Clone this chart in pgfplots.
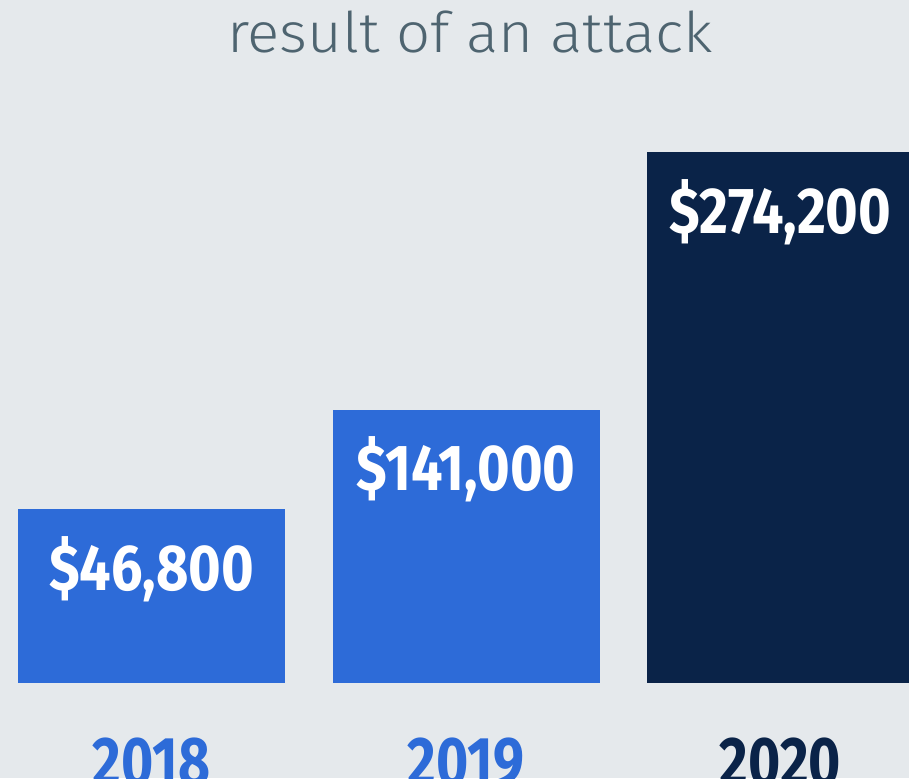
\documentclass[border=0pt]{standalone}
\usepackage{fontspec}
\setmainfont{Fira Sans}
\newfontfamily\numfont{Fira Sans}[FakeStretch=0.86]
\newfontfamily\yearfont{Fira Sans}[FakeStretch=0.80]
\newfontfamily\titlefont{Fira Sans Light}[FakeStretch=1.07]
\usepackage{pgfplots}
\pgfplotsset{compat=1.18}
\definecolor{bg}{HTML}{E5E9EC}
\definecolor{cblue}{HTML}{2D6BD8}
\definecolor{cnavy}{HTML}{0A2348}
\definecolor{ctitle}{HTML}{4E6470}
\begin{document}
\begin{tikzpicture}
% canvas: 909 x 778 px at 0.5pt per px
\fill[bg] (0,0) rectangle (454.5pt,389pt);
\useasboundingbox (0,0) rectangle (454.5pt,389pt);
\begin{scope}
\clip (0,0) rectangle (454.5pt,389pt);
\node[anchor=base, text=ctitle, font=\titlefont\fontsize{28}{30}\selectfont] at (235pt,362.5pt) {result of an attack};
\begin{axis}[
    at={(-2.875pt,47.5pt)},
    anchor=south west,
    scale only axis,
    width=471.75pt,
    height=265.5pt,
    xmin=-0.5, xmax=2.5,
    ymin=0, ymax=274200,
    axis lines=none,
    ybar,
    bar width=133.5pt,
    bar shift=0pt,
    clip=false,
    nodes near coords,
    point meta=explicit symbolic,
    every node near coord/.append style={anchor=base, yshift=-40.5pt, text=white,
        font=\numfont\bfseries\fontsize{32.5}{34}\selectfont},
]
% bar heights as drawn; labels are the printed values
\addplot[fill=cblue, draw=none] coordinates {(0,89850) [\$46,800]};
\addplot[fill=cblue, draw=none] coordinates {(1,141000) [\$141,000]};
\addplot[fill=cnavy, draw=none] coordinates {(2,274200) [\$274,200]};
\node[anchor=base, yshift=-51pt, text=cblue, font=\yearfont\bfseries\fontsize{34.5}{36}\selectfont] at (axis cs:0,0) {2018};
\node[anchor=base, yshift=-51pt, text=cblue, font=\yearfont\bfseries\fontsize{34.5}{36}\selectfont] at (axis cs:1,0) {2019};
\node[anchor=base, yshift=-51pt, text=cnavy, font=\yearfont\bfseries\fontsize{34.5}{36}\selectfont] at (axis cs:2,0) {2020};
\end{axis}
\end{scope}
\end{tikzpicture}
\end{document}
